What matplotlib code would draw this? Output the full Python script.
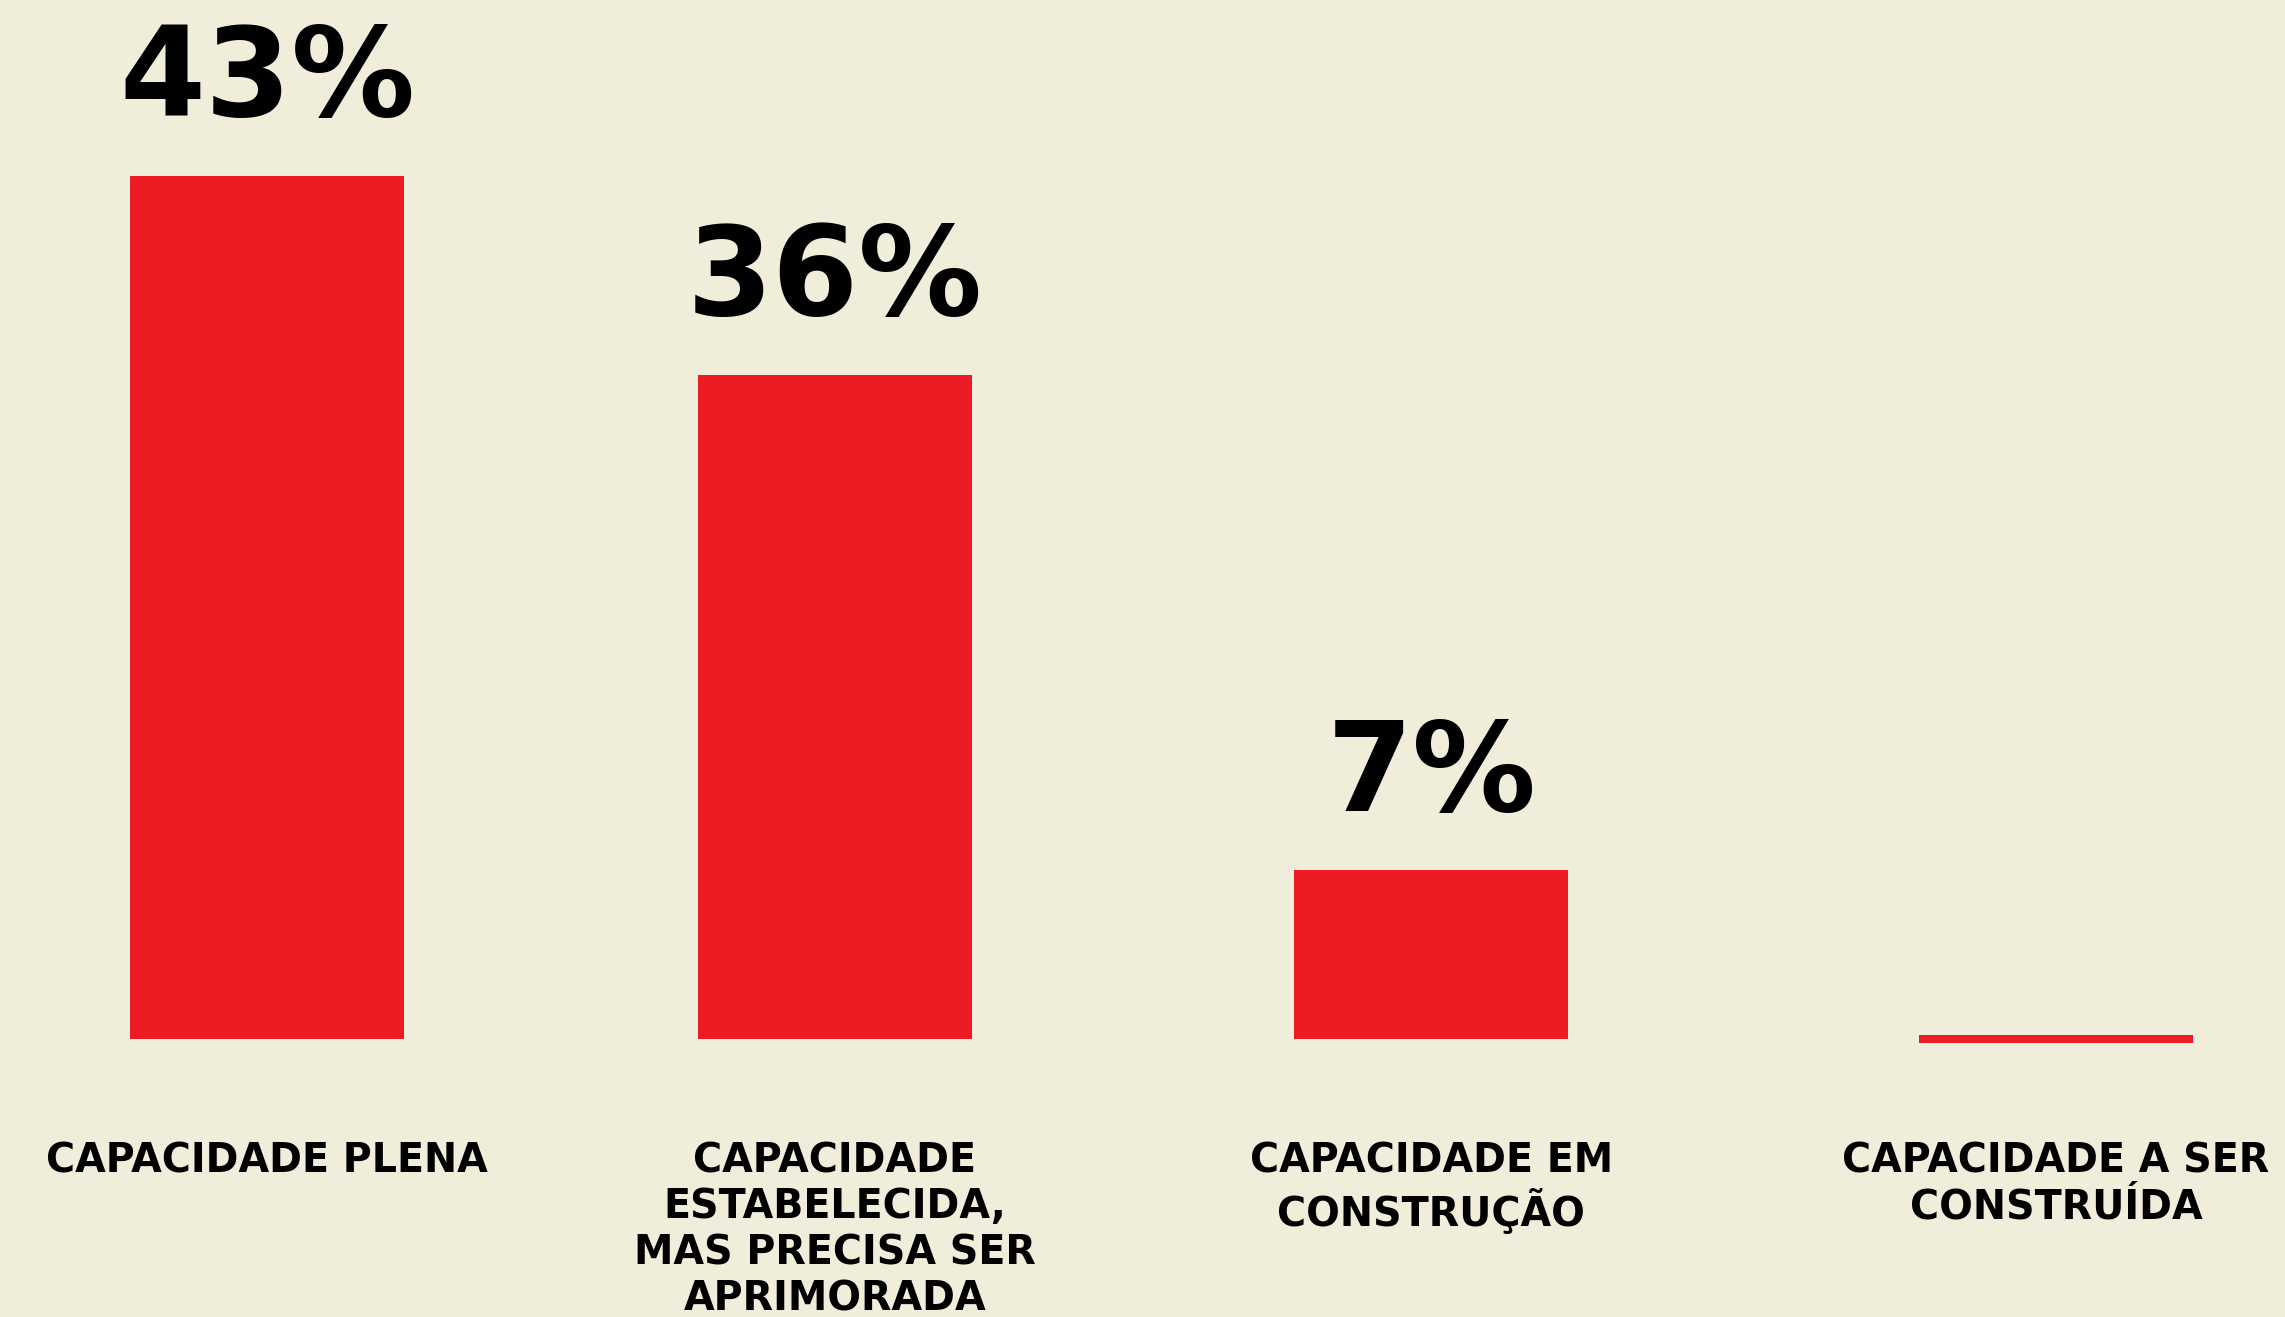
import matplotlib.pyplot as plt

# data
categories = ["CAPACIDADE PLENA",
              "CAPACIDADE\nESTABELECIDA,\nMAS PRECISA SER\nAPRIMORADA",
              "CAPACIDADE EM\nCONSTRUÇÃO",
              "CAPACIDADE A SER\nCONSTRUÍDA"]
shares = [43, 36, 7, 0]                 # printed labels (%)
bar_heights = [43, 33.1, 8.4, 0.4]      # bar heights as drawn in the reference
share_labels = ["43%", "36%", "7%", ""]

# layout
xpos = [0, 1, 2.05, 3.15]
bg = "#F0EEDB"
red = "#ED1C24"

plt.rcParams['font.family'] = ['DejaVu Sans']

fig = plt.figure(figsize=(22.85, 13.17), dpi=100, facecolor=bg)
ax = fig.add_axes([0, 0, 1, 1])
ax.set_facecolor(bg)

for x, h, s in zip(xpos, bar_heights, shares):
    # a zero share is shown as a thin line centred on the baseline
    bottom = -h / 2 if s == 0 else 0
    ax.bar(x, h, bottom=bottom, width=0.482, color=red)

for x, h, lab in zip(xpos, bar_heights, share_labels):
    if lab:
        ax.annotate(lab, xy=(x, h), xytext=(0, 43), textcoords='offset points',
                    ha='center', va='baseline', fontsize=89, fontweight='bold',
                    color='black')

for x, cat in zip(xpos, categories):
    ax.annotate(cat, xy=(x, 0), xytext=(0, -73.5), textcoords='offset points',
                ha='center', va='top', multialignment='center',
                fontsize=28.5, fontweight='bold', color='black', linespacing=1.2)

ax.set_xlim(-0.47, 3.553)
ax.set_ylim(-13.85, 51.77)
ax.axis('off')

fig.savefig("out.png", dpi=100, facecolor=bg)
